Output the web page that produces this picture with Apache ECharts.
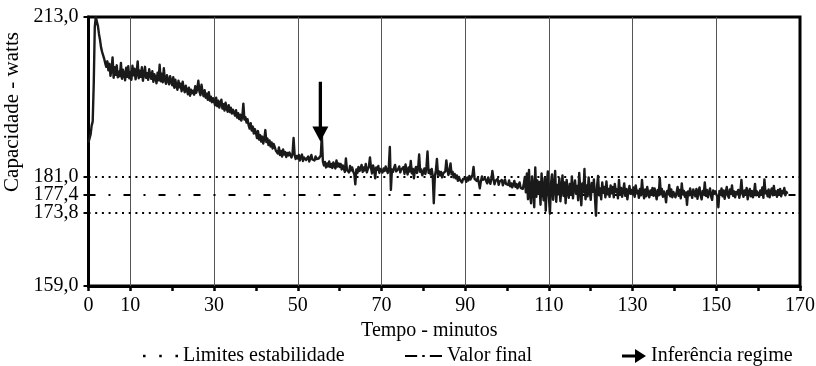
<!DOCTYPE html>
<html>
<head>
<meta charset="utf-8">
<script src="https://cdn.jsdelivr.net/npm/echarts@6/dist/echarts.min.js"></script>
<style>
  html, body { margin: 0; padding: 0; background: #fff; }
  #chart { width: 816px; height: 366px; }
</style>
</head>
<body>
<div id="chart"></div>
<script>
// amostras a cada quarto de minuto
const passo = 0.25
// capacidade medida (watts), uma linha = 5 minutos
const capacidade = [
  187.8, 188.6, 189.4, 191.2, 192.0, 199.5, 211.0, 213.0, 212.8, 211.2, 209.6, 208.4, 206.9, 206.0, 205.3, 204.6, 203.7, 203.0, 204.1, 202.3,
  203.6, 201.2, 202.5, 204.9, 200.8, 202.9, 201.4, 203.3, 200.9, 202.0, 201.1, 203.8, 200.6, 202.4, 201.5, 200.3, 202.8, 201.0, 203.1, 200.7,
  201.9, 200.4, 203.2, 201.3, 202.6, 200.5, 201.8, 204.1, 200.7, 202.2, 201.0, 202.9, 200.2, 201.6, 203.0, 200.8, 201.7, 200.4, 202.5, 201.2,
  200.6, 202.1, 200.0, 201.5, 200.9, 199.7, 201.8, 200.3, 203.4, 200.1, 201.6, 199.9, 202.7, 200.4, 199.6, 201.3, 200.2, 199.5, 201.1, 200.0,
  199.3, 200.9, 198.8, 200.4, 199.1, 198.4, 200.2, 198.9, 199.6, 198.1, 200.0, 198.6, 197.9, 199.2, 198.3, 197.5, 198.8, 197.2, 198.4, 197.7,
  198.2, 197.4, 199.1, 197.8, 198.7, 200.2, 198.0, 197.3, 199.4, 197.9, 197.1, 198.3, 196.8, 197.6, 196.4, 197.9, 196.2, 197.0, 195.9, 196.7,
  196.0, 195.3, 196.8, 195.1, 196.2, 194.8, 195.7, 196.4, 194.6, 195.5, 194.2, 195.8, 194.7, 194.0, 195.3, 193.9, 194.8, 193.6, 194.4, 193.8,
  193.2, 194.3, 192.8, 193.7, 192.5, 193.4, 192.2, 193.0, 195.6, 192.4, 192.9, 191.8, 192.5, 191.3, 190.6, 191.7, 190.2, 191.0, 189.6, 190.5,
  189.8, 188.7, 190.1, 188.4, 189.3, 188.0, 189.0, 187.6, 188.5, 190.3, 187.9, 188.6, 187.3, 188.2, 187.0, 187.8, 186.6, 187.5, 186.9, 186.2,
  186.5, 185.6, 186.8, 185.3, 186.1, 185.0, 186.4, 185.4, 185.9, 184.9, 185.7, 185.2, 185.8, 185.5, 184.8, 185.6, 188.7, 185.3, 184.5, 185.1,
  184.6, 185.3, 184.2, 184.9, 185.4, 184.1, 184.8, 185.2, 184.3, 184.7, 185.0, 184.0, 184.6, 185.3, 184.4, 184.8, 184.2, 185.0, 184.5, 184.9,
  184.6, 184.9, 185.2, 189.3, 184.0, 183.2, 183.9, 182.8, 183.6, 183.0, 184.0, 182.9, 183.5, 182.7, 183.8, 183.1, 182.6, 184.2, 183.0, 183.6,
  182.9, 183.5, 182.4, 183.2, 182.6, 181.9, 184.6, 182.3, 182.7, 181.8, 183.1, 182.2, 182.8, 182.0, 181.5, 179.4, 182.4, 181.7, 182.9, 182.1,
  182.6, 183.3, 181.9, 182.8, 182.2, 183.5, 181.8, 182.5, 183.0, 184.8, 182.7, 181.6, 183.2, 182.4, 180.6, 182.8, 182.3, 183.1, 181.7, 182.5,
  182.9, 181.8, 182.6, 182.1, 183.0, 182.3, 181.7, 182.8, 186.9, 178.3, 182.4, 181.9, 182.7, 183.3, 182.0, 181.6, 182.5, 183.0, 181.8, 182.4,
  182.1, 182.9, 181.5, 183.4, 182.2, 181.4, 182.8, 182.0, 184.1, 181.6, 182.5, 180.6, 182.3, 182.9, 181.7, 182.6, 185.4, 181.9, 182.4, 181.2,
  181.8, 182.6, 181.5, 182.9, 186.0, 181.7, 182.3, 181.4, 182.5, 181.1, 175.6, 180.9, 182.2, 184.5, 181.3, 182.0, 181.2, 181.9, 180.8, 181.6,
  181.2, 182.0, 184.2, 182.4, 181.3, 182.1, 183.6, 181.4, 181.9, 180.8, 181.5, 180.6, 181.2, 180.1, 180.9, 180.3, 180.7, 179.8, 180.5, 180.2,
  180.6, 179.9, 180.8, 180.2, 181.1, 180.4, 180.0, 181.3, 182.9, 180.5, 180.9, 180.1, 180.7, 179.8, 178.6, 180.0, 181.0, 180.3, 179.9, 180.6,
  180.2, 179.6, 180.8, 180.0, 179.5, 180.4, 182.1, 180.6, 179.4, 180.1, 179.7, 180.5, 179.3, 180.0, 179.6, 180.3, 179.2, 179.9, 180.4, 179.5,
  179.8, 179.3, 180.2, 179.0, 179.6, 178.8, 179.4, 180.1, 178.9, 179.5, 178.6, 179.2, 179.8, 178.7, 179.1, 178.5, 179.4, 180.9, 177.8, 181.6,
  176.4, 182.3, 177.2, 175.6, 181.0, 178.6, 174.8, 182.8, 176.9, 180.2, 177.5, 179.9, 175.3, 181.6, 178.1, 176.2, 180.7, 174.1, 179.4, 182.0,
  177.0, 173.5, 179.6, 181.4, 176.3, 178.8, 182.1, 175.9, 179.3, 177.4, 180.6, 176.0, 178.5, 181.2, 177.1, 179.8, 175.6, 180.3, 178.0, 176.7,
  179.5, 177.3, 181.0, 176.6, 178.9, 180.2, 177.5, 179.1, 176.2, 181.7, 178.4, 175.2, 179.6, 177.8, 182.5, 176.4, 179.2, 177.0, 180.8, 178.1,
  176.3, 179.7, 177.9, 180.4, 176.9, 173.1, 179.0, 181.1, 177.2, 178.6, 176.4, 179.8, 177.7, 178.9, 176.8, 180.0, 177.4, 178.5, 176.9, 179.2,
  177.6, 178.9, 176.8, 179.5, 177.9, 178.4, 176.6, 180.3, 177.3, 178.7, 176.9, 178.2, 179.6, 177.1, 178.5, 176.4, 178.0, 179.1, 177.5, 178.3,
  177.4, 178.8, 176.9, 179.2, 177.6, 178.1, 176.7, 178.5, 177.2, 180.3, 177.8, 176.6, 178.4, 177.0, 178.9, 177.5, 176.8, 178.2, 177.3, 178.7,
  177.1, 178.6, 177.6, 176.4, 178.3, 177.2, 180.7, 177.4, 178.5, 176.9, 178.0, 177.3, 175.8, 178.1, 177.5, 179.3, 177.0, 178.4, 176.8, 177.9,
  178.2, 176.8, 177.7, 178.9, 177.1, 178.3, 176.6, 179.6, 177.4, 178.1, 176.9, 177.8, 175.3, 178.0, 177.2, 178.6, 177.5, 176.7, 178.4, 177.6,
  177.0, 178.5, 176.5, 177.9, 178.8, 177.2, 176.4, 178.1, 177.4, 179.8, 177.1, 178.3, 176.8, 177.7, 178.6, 177.0, 176.3, 178.2, 177.5, 178.0,
  177.6, 176.9, 174.8, 178.1, 177.3, 178.6, 177.0, 178.2, 176.5, 177.8, 178.9, 177.2, 176.7, 178.4, 177.5, 179.2, 177.1, 178.0, 176.8, 177.9,
  177.4, 178.3, 176.7, 177.9, 180.3, 177.5, 176.9, 178.2, 177.3, 178.7, 176.4, 177.8, 178.5, 177.0, 178.1, 176.8, 177.6, 179.5, 177.2, 178.0,
  177.5, 176.9, 178.2, 177.3, 178.8, 176.7, 180.4, 177.6, 178.1, 177.0, 178.4, 176.8, 177.9, 178.6, 177.2, 179.1, 177.4, 178.0, 176.9, 178.3,
  177.3, 178.5, 177.0, 178.1, 177.6, 178.7, 177.2, 177.9, 177.5
]
// limites de estabilidade e valor final
const limites = [181.0, 173.8]
const valorFinal = 177.4
// rotulos dos eixos
const ticksY = [159.0, 173.8, 177.4, 181.0, 213.0]
const ticksX = [0, 10, 30, 50, 70, 90, 110, 130, 150, 170]
const gradeX = [10, 30, 50, 70, 90, 110, 130, 150]
// seta da inferencia de regime (inicio e ponta)
const seta = [[55.4, 200.0], [55.4, 189.5]]

const fonte = 'Liberation Serif'
const serie = capacidade.map((v, i) => [i * passo, v])

let chart = echarts.init(document.getElementById('chart'), null, { renderer: 'canvas' })

let option = {
  animation: false,
  backgroundColor: '#fff',
  textStyle: { fontFamily: fonte, color: '#000' },
  grid: {
    left: 88.5,
    right: 16,
    top: 17,
    bottom: 80,
    outerBoundsMode: 'none',
    show: true,
    borderColor: '#000',
    borderWidth: 3
  },
  legend: [
    {
      left: 143, top: 346, padding: 0,
      data: [{ name: 'Limites estabilidade', icon: 'path://M0,0h2.5v2.5h-2.5z M16,0h2.5v2.5h-2.5z M32,0h2.5v2.5h-2.5z' }],
      itemWidth: 35, itemHeight: 14,
      textStyle: { fontFamily: fonte, fontSize: 20, color: '#000' }
    },
    {
      left: 405, top: 346, padding: 0,
      data: [{ name: 'Valor final', icon: 'path://M0,0h12v2h-12z M17,0h2.5v2h-2.5z M24.5,0h12v2h-12z' }],
      itemWidth: 37, itemHeight: 14,
      textStyle: { fontFamily: fonte, fontSize: 20, color: '#000' }
    },
    {
      left: 622, top: 346, padding: 0,
      data: [{ name: 'Inferência regime', icon: 'path://M0,5.5H13V0L24,7L13,14V8.5H0Z' }],
      itemWidth: 24, itemHeight: 14,
      textStyle: { fontFamily: fonte, fontSize: 20, color: '#000' }
    }
  ],
  xAxis: {
    type: 'value',
    min: 0,
    max: 170,
    interval: 10,
    name: 'Tempo - minutos',
    nameLocation: 'middle',
    nameGap: 31,
    nameTextStyle: { fontFamily: fonte, fontSize: 20, color: '#000', padding: [0, 30, 0, 0] },
    axisLine: { show: true, lineStyle: { color: '#000', width: 3 } },
    axisTick: { show: true, length: 5, lineStyle: { color: '#000', width: 2.5 } },
    axisLabel: {
      customValues: ticksX,
      margin: 10,
      fontFamily: fonte,
      fontSize: 20,
      color: '#000'
    },
    splitLine: { show: false }
  },
  yAxis: {
    type: 'value',
    min: 159,
    max: 213,
    name: 'Capacidade - watts',
    nameLocation: 'middle',
    nameGap: 56,
    nameTextStyle: { fontFamily: fonte, fontSize: 21, color: '#000', padding: [0, 0, 0, 79] },
    axisLine: { show: true, lineStyle: { color: '#000', width: 3 } },
    axisTick: { show: true, customValues: ticksY, length: 5, lineStyle: { color: '#000', width: 2 } },
    axisLabel: {
      customValues: ticksY,
      margin: 10,
      fontFamily: fonte,
      fontSize: 20,
      color: '#000',
      formatter: v => v.toFixed(1).replace('.', ',')
    },
    splitLine: { show: false }
  },
  series: [
    {
      name: 'grade',
      type: 'line',
      data: [],
      silent: true,
      markLine: {
        silent: true,
        symbol: 'none',
        label: { show: false },
        lineStyle: { color: '#555', width: 1, type: 'solid' },
        data: gradeX.map(x => ({ xAxis: x }))
      }
    },
    {
      name: 'Limites estabilidade',
      type: 'line',
      data: [],
      color: '#000',
      markLine: {
        silent: true,
        symbol: 'none',
        label: { show: false },
        lineStyle: { color: '#000', width: 2.2, type: [2, 4.7] },
        data: limites.map(y => ({ yAxis: y }))
      }
    },
    {
      name: 'Valor final',
      type: 'line',
      data: [],
      color: '#000',
      markLine: {
        silent: true,
        symbol: 'none',
        label: { show: false },
        lineStyle: { color: '#000', width: 2.2, type: [7, 13, 2, 13] },
        data: [{ yAxis: valorFinal }]
      }
    },
    {
      name: 'capacidade',
      type: 'line',
      data: serie,
      showSymbol: false,
      symbol: 'none',
      color: '#1a1a1a',
      lineStyle: { color: '#1a1a1a', width: 2.4, join: 'round' },
      z: 5
    },
    {
      name: 'Inferência regime',
      type: 'line',
      color: '#000',
      showSymbol: true,
      lineStyle: { color: '#000', width: 3.3 },
      data: [
        { value: seta[0], symbol: 'none' },
        { value: seta[1], symbol: 'triangle', symbolRotate: 180, symbolSize: [16, 15] }
      ],
      z: 6
    }
  ]
}

chart.setOption(option)
</script>
</body>
</html>
